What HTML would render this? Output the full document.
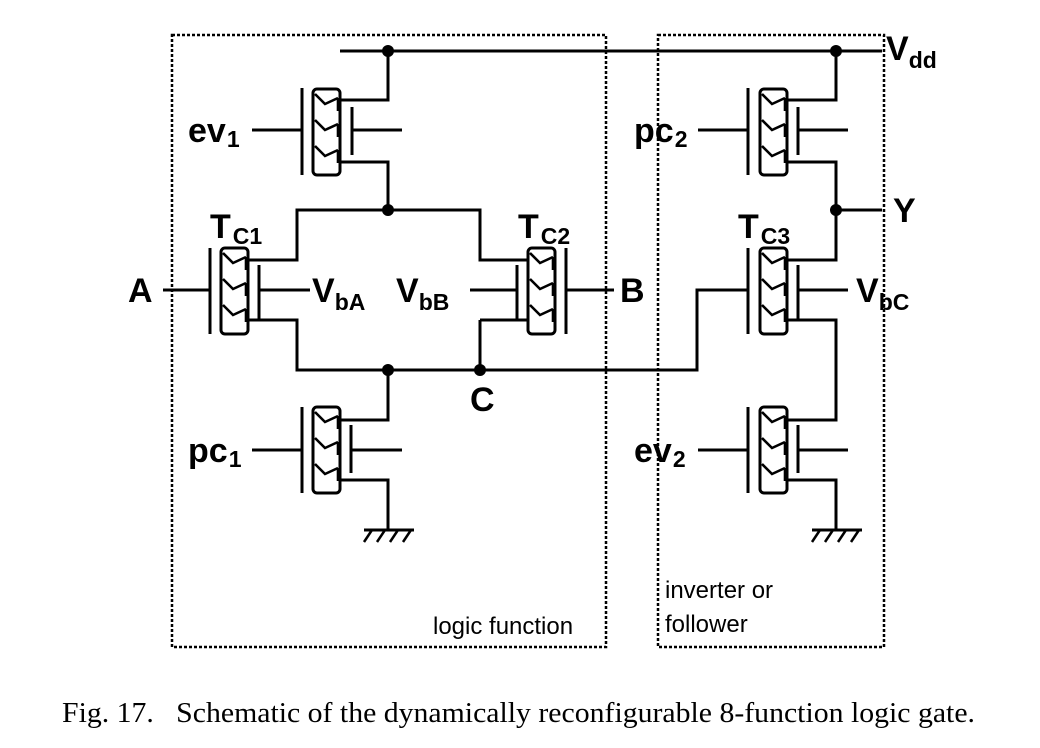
<!DOCTYPE html>
<html><head><style>
body{margin:0;background:#fff;width:1040px;height:748px;overflow:hidden}
svg{display:block}
.l{font-family:"Liberation Sans",sans-serif;font-weight:bold;font-size:34px;fill:#000}
.s{font-size:23px}
.n{font-family:"Liberation Sans",sans-serif;font-size:24px;fill:#000}
</style></head><body>
<svg width="1040" height="748" viewBox="0 0 1040 748" xmlns="http://www.w3.org/2000/svg">
<defs>
<g id="ch">
<rect x="0" y="0" width="27" height="86" rx="4" fill="#fff" stroke="#000" stroke-width="3"/>
<g fill="none" stroke="#000" stroke-width="2.6">
<polyline points="2,5 12,15 25,9"/>
<polyline points="2,31 12,41 25,35"/>
<polyline points="2,57 12,67 25,61"/>
<line x1="25" y1="9" x2="25" y2="22"/>
<line x1="25" y1="35" x2="25" y2="48"/>
<line x1="25" y1="61" x2="25" y2="74"/>
</g>
</g>
</defs>
<g fill="none" stroke="#000" stroke-width="2.5" stroke-dasharray="3,2">
<rect x="172" y="35" width="434" height="612"/>
<rect x="658" y="35" width="226" height="612"/>
</g>
<g fill="none" stroke="#000" stroke-width="3">
<line x1="340" y1="51" x2="882" y2="51"/>
<line x1="302" y1="88" x2="302" y2="175"/>
<line x1="252" y1="130" x2="302" y2="130"/>
<line x1="352" y1="107" x2="352" y2="155"/>
<line x1="352" y1="130" x2="402" y2="130"/>
<polyline points="340,100 388,100 388,51"/>
<polyline points="340,162 388,162 388,210"/>
<polyline points="248,260 297,260 297,210 480,210 480,260 528,260"/>
<polyline points="248,320 297,320 297,370 697,370 697,290 748,290"/>
<line x1="480" y1="320" x2="480" y2="370"/>
<line x1="480" y1="320" x2="528" y2="320"/>
<line x1="210" y1="248" x2="210" y2="334"/>
<line x1="163" y1="290" x2="210" y2="290"/>
<line x1="259" y1="265" x2="259" y2="320"/>
<line x1="259" y1="290" x2="310" y2="290"/>
<line x1="566" y1="248" x2="566" y2="334"/>
<line x1="566" y1="290" x2="614" y2="290"/>
<line x1="517" y1="265" x2="517" y2="320"/>
<line x1="470" y1="290" x2="517" y2="290"/>
<line x1="302" y1="407" x2="302" y2="493"/>
<line x1="252" y1="450" x2="302" y2="450"/>
<line x1="351" y1="425" x2="351" y2="473"/>
<line x1="351" y1="450" x2="402" y2="450"/>
<polyline points="340,420 388,420 388,370"/>
<polyline points="340,480 388,480 388,530"/>
<line x1="364" y1="530" x2="414" y2="530"/>
<line x1="748" y1="88" x2="748" y2="175"/>
<line x1="698" y1="130" x2="748" y2="130"/>
<line x1="798" y1="107" x2="798" y2="155"/>
<line x1="798" y1="130" x2="848" y2="130"/>
<polyline points="786,100 836,100 836,51"/>
<polyline points="786,162 836,162 836,260 786,260"/>
<line x1="836" y1="210" x2="882" y2="210"/>
<line x1="748" y1="248" x2="748" y2="334"/>
<line x1="798" y1="265" x2="798" y2="320"/>
<line x1="798" y1="290" x2="848" y2="290"/>
<polyline points="786,320 836,320 836,420 786,420"/>
<line x1="748" y1="407" x2="748" y2="493"/>
<line x1="698" y1="450" x2="748" y2="450"/>
<line x1="798" y1="425" x2="798" y2="473"/>
<line x1="798" y1="450" x2="848" y2="450"/>
<polyline points="786,480 836,480 836,530"/>
<line x1="812" y1="530" x2="862" y2="530"/>
</g>
<g stroke="#000" stroke-width="2.5">
<line x1="372" y1="530" x2="364" y2="542"/><line x1="385" y1="530" x2="377" y2="542"/><line x1="398" y1="530" x2="390" y2="542"/><line x1="411" y1="530" x2="403" y2="542"/>
<line x1="820" y1="530" x2="812" y2="542"/><line x1="833" y1="530" x2="825" y2="542"/><line x1="846" y1="530" x2="838" y2="542"/><line x1="859" y1="530" x2="851" y2="542"/>
</g>
<use href="#ch" x="313" y="89"/>
<use href="#ch" x="221" y="248"/>
<use href="#ch" x="528" y="248"/>
<use href="#ch" x="313" y="407"/>
<use href="#ch" x="760" y="89"/>
<use href="#ch" x="760" y="248"/>
<use href="#ch" x="760" y="407"/>
<g fill="#000">
<circle cx="388" cy="51" r="6"/><circle cx="836" cy="51" r="6"/>
<circle cx="388" cy="210" r="6"/><circle cx="836" cy="210" r="6"/>
<circle cx="388" cy="370" r="6"/><circle cx="480" cy="370" r="6"/>
</g>
<text class="l" x="188" y="142">ev<tspan class="s" dx="1" dy="5">1</tspan></text>
<text class="l" x="188" y="462">pc<tspan class="s" dx="1" dy="5">1</tspan></text>
<text class="l" x="634" y="142">pc<tspan class="s" dx="1" dy="5">2</tspan></text>
<text class="l" x="634" y="462">ev<tspan class="s" dx="1" dy="5">2</tspan></text>
<text class="l" x="210" y="238">T<tspan class="s" dx="2" dy="6">C1</tspan></text>
<text class="l" x="518" y="238">T<tspan class="s" dx="2" dy="6">C2</tspan></text>
<text class="l" x="738" y="238">T<tspan class="s" dx="2" dy="6">C3</tspan></text>
<text class="l" x="128" y="302">A</text>
<text class="l" x="620" y="302">B</text>
<text class="l" x="470" y="411">C</text>
<text class="l" x="893" y="222">Y</text>
<text class="l" x="312" y="302">V<tspan class="s" dy="8">bA</tspan></text>
<text class="l" x="396" y="302">V<tspan class="s" dy="8">bB</tspan></text>
<text class="l" x="856" y="302">V<tspan class="s" dy="8">bC</tspan></text>
<text class="l" x="886" y="60">V<tspan class="s" dy="8">dd</tspan></text>
<text class="n" x="433" y="634">logic function</text>
<text class="n" x="665" y="598">inverter or</text>
<text class="n" x="665" y="632">follower</text>
<text x="62" y="722" font-family="Liberation Serif, serif" font-size="29" fill="#000" style="white-space:pre" xml:space="preserve" textLength="913" lengthAdjust="spacingAndGlyphs">Fig. 17.   Schematic of the dynamically reconfigurable 8-function logic gate.</text>
</svg>
</body></html>
